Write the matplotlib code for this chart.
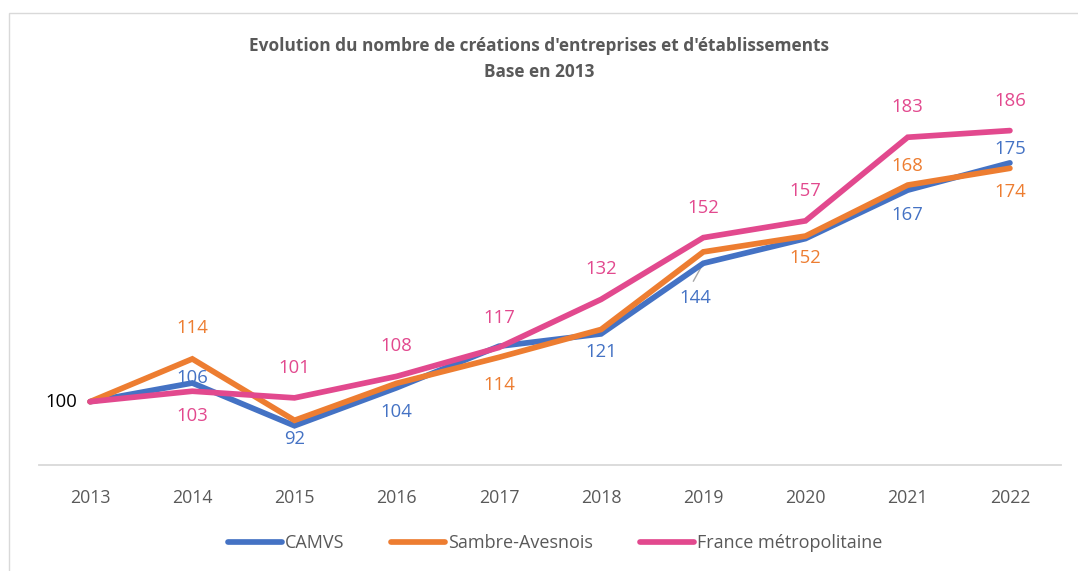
import matplotlib
matplotlib.use("Agg")
import matplotlib.pyplot as plt
from matplotlib.patches import Rectangle

years = ["2013", "2014", "2015", "2016", "2017", "2018", "2019", "2020", "2021", "2022"]
camvs = [100, 105.9, 92.4, 104.4, 117.5, 121.4, 143.7, 151.5, 166.8, 175.4]
sambre = [100, 113.5, 94.1, 105.8, 114.0, 122.8, 147.3, 152.3, 168.4, 173.7]
france = [100, 103.3, 101.2, 108.0, 117.1, 132.3, 151.8, 157.1, 183.5, 185.6]

camvs_labels = [None, "106", "92", "104", None, "121", "144", None, "167", "175"]
sambre_labels = [None, "114", None, None, "114", None, None, "152", "168", "174"]
france_labels = ["100", "103", "101", "108", "117", "132", "152", "157", "183", "186"]

# label offsets in pixels (dx, dy), positive dy = up
camvs_off = [None, (0, 5), (0, -13), (0, -24), None, (0, -18), (-8, -35), None, (0, -25), (0, 14)]
sambre_off = [None, (0, 31), None, None, (0, -28), None, None, (0, -22), (0, 19), (0, -24)]
france_off = [(-29, 0), (0, -25), (0, 30), (0, 30), (0, 30), (0, 30), (0, 30), (0, 30), (0, 30), (0, 30)]

c_blue = "#4472C4"
c_orange = "#ED7D31"
c_pink = "#E2498E"
grey = "#595959"

plt.rcParams['font.family'] = ['Open Sans', 'DejaVu Sans']

fig = plt.figure(figsize=(10.78, 5.71), dpi=100)
fig.patches.append(Rectangle((9 / 1078, -0.1), 1.2, 1 - 13 / 571 + 0.1, transform=fig.transFigure,
                             fill=False, edgecolor="#D9D9D9", linewidth=1.0))
ax = fig.add_axes([39 / 1078, 1 - 465 / 571, (1061 - 39) / 1078, (465 - 85) / 571])

x = list(range(len(years)))
lw = 4.1
ax.plot(x, camvs, color=c_blue, lw=lw, solid_joinstyle='miter', solid_capstyle='round', label="CAMVS", zorder=3)
ax.plot(x, sambre, color=c_orange, lw=lw, solid_joinstyle='miter', solid_capstyle='round', label="Sambre-Avesnois", zorder=4)
ax.plot(x, france, color=c_pink, lw=lw, solid_joinstyle='miter', solid_capstyle='round', label="France métropolitaine", zorder=5)

fs = 13.3
def put_labels(vals, labels, offs, color):
    for i, (v, lab, off) in enumerate(zip(vals, labels, offs)):
        if lab is None:
            continue
        col = "black" if (lab == "100" and i == 0) else color
        ax.annotate(lab, (i, v), xytext=off, textcoords="offset pixels",
                    ha="center", va="center", fontsize=fs, color=col, zorder=6)

put_labels(camvs, camvs_labels, camvs_off, c_blue)
put_labels(sambre, sambre_labels, sambre_off, c_orange)
put_labels(france, france_labels, france_off, c_pink)

# leader line for 144
ax.annotate("", xy=(6, camvs[6]), xytext=(-10, -18), textcoords="offset pixels",
            xycoords="data", arrowprops=dict(arrowstyle="-", color="#A6A6A6", lw=1, shrinkA=0, shrinkB=0), zorder=2)

ax.set_xlim(-0.5, 9.5)
ax.set_ylim(80, 200)
ax.set_xticks(x)
ax.set_xticklabels(years, fontsize=12.8, color=grey)
ax.tick_params(axis='x', length=0, pad=17)
ax.set_yticks([])
for s in ["top", "right", "left"]:
    ax.spines[s].set_visible(False)
ax.spines["bottom"].set_color("#D9D9D9")
ax.spines["bottom"].set_linewidth(1.3)

fig.text(0.5, 1 - 46 / 571, "Evolution du nombre de créations d'entreprises et d'établissements",
         ha="center", va="center", fontsize=12.4, fontweight="bold", color=grey)
fig.text(0.5, 1 - 72 / 571, "Base en 2013",
         ha="center", va="center", fontsize=12.4, fontweight="bold", color=grey)

leg = fig.legend(loc="center", bbox_to_anchor=(555 / 1078, 1 - 543 / 571), ncol=3, frameon=False,
                 fontsize=13.0, handlelength=3.0, handletextpad=0.15, columnspacing=2.6)
for t in leg.get_texts():
    t.set_color(grey)

fig.savefig("out.png", dpi=100)
